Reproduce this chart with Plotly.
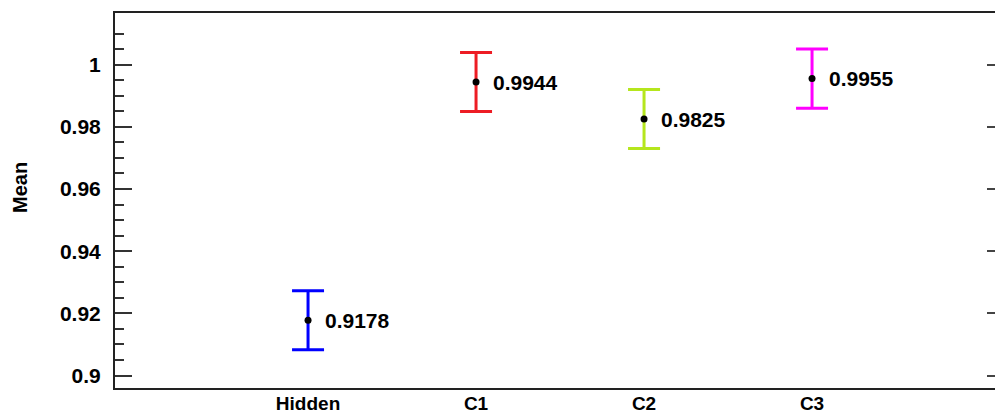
import plotly.graph_objects as go

categories = ["Hidden", "C1", "C2", "C3"]
means = [0.9178, 0.9944, 0.9825, 0.9955]
errors = [0.0095, 0.0095, 0.0095, 0.0095]
colors = ["#0000FF", "#ED1C24", "#B5E61D", "#FF00FF"]
y_ticks = [0.9, 0.92, 0.94, 0.96, 0.98, 1.0]
y_tick_labels = ["0.9", "0.92", "0.94", "0.96", "0.98", "1"]
y_minor = [0.905, 0.91, 0.915, 0.925, 0.93, 0.935, 0.945, 0.95, 0.955,
           0.965, 0.97, 0.975, 0.985, 0.99, 0.995, 1.005, 1.01]

FONT = "Liberation Sans, Arial, sans-serif"
W, H = 995, 415
ML, MR, MT, MB = 115, 0, 13, 27

fig = go.Figure()
xs = list(range(len(categories)))
for i, (m, e, c) in enumerate(zip(means, errors, colors)):
    fig.add_trace(go.Scatter(
        x=[xs[i]], y=[m], mode="markers",
        marker=dict(color="black", size=7),
        error_y=dict(type="data", array=[e], color=c, thickness=3, width=16),
        showlegend=False, cliponaxis=False,
    ))
    fig.add_annotation(x=xs[i], y=m, text=f"{m:.4f}", showarrow=False,
                       xanchor="left", yanchor="middle", xshift=15,
                       font=dict(family=FONT, size=21, color="black", weight="bold"))

# invisible helper trace so the right-hand tick axis is drawn
fig.add_trace(go.Scatter(x=[xs[0]], y=[means[0]], yaxis="y2", mode="markers",
                         marker=dict(opacity=0), showlegend=False, hoverinfo="skip"))

pw = W - ML - MR
ph = H - MT - MB
fig.add_annotation(xref="paper", yref="paper", x=(20 - ML) / pw, y=(H - MB - 188) / ph,
                   text="Mean", textangle=-90, showarrow=False,
                   xanchor="center", yanchor="middle",
                   font=dict(family=FONT, size=20, color="black", weight="bold"))

yrange = [0.8960, 1.0166]
fig.update_layout(
    width=W, height=H,
    margin=dict(l=ML, r=MR, t=MT, b=MB, pad=0, autoexpand=False),
    paper_bgcolor="white", plot_bgcolor="white",
    font=dict(family=FONT, color="black"),
    xaxis=dict(
        range=[-1.149, 4.089], tickmode="array", tickvals=xs, ticktext=categories,
        showgrid=False, zeroline=False, showline=True, linecolor="#222",
        linewidth=2, mirror=True, ticks="", ticklabelstandoff=-3, automargin=False,
        tickfont=dict(family=FONT, size=19, color="black", weight="bold"),
    ),
    yaxis=dict(
        range=yrange, tickmode="array", tickvals=y_ticks, ticktext=y_tick_labels,
        showgrid=False, zeroline=False, showline=True, linecolor="#222", linewidth=2,
        mirror=False, ticks="inside", ticklen=17, tickwidth=2, tickcolor="#333",
        ticklabelstandoff=8, automargin=False,
        tickfont=dict(family=FONT, size=21, color="black", weight="bold"),
        minor=dict(tickmode="array", tickvals=y_minor, ticks="inside", ticklen=9,
                   tickwidth=2, tickcolor="#333", showgrid=False),
    ),
    yaxis2=dict(
        range=yrange, overlaying="y", side="right", tickmode="array", tickvals=y_ticks,
        showticklabels=False, showgrid=False, zeroline=False, showline=False,
        ticks="inside", ticklen=8, tickwidth=2, tickcolor="#444", automargin=False,
    ),
)

fig.write_html("out.html", config={"displayModeBar": False},
               post_script="document.body.style.margin='0';document.body.style.overflow='hidden';")
